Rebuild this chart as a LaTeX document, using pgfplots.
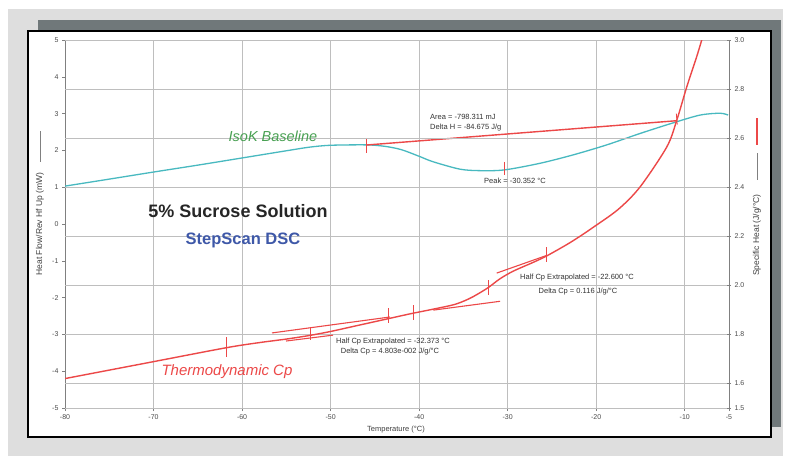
\documentclass[border=0pt]{standalone}
\usepackage{pgfplots}
\pgfplotsset{compat=1.18}
\usepackage{fontspec}
\setmainfont{Liberation Sans}
\definecolor{cyanc}{RGB}{72,185,192}
\definecolor{redc}{RGB}{236,72,72}
\definecolor{gridc}{RGB}{190,190,190}
\definecolor{bgc}{RGB}{222,222,222}
\definecolor{shadowc}{RGB}{112,120,122}
\definecolor{titleblue}{RGB}{62,88,168}
\definecolor{greenc}{RGB}{72,160,82}
\begin{document}
\begin{tikzpicture}
\useasboundingbox (0,0) rectangle (789pt,-456pt);
\fill[white] (0,0) rectangle (789pt,-456pt);
\fill[bgc] (8pt,-9pt) rectangle (783pt,-456pt);
\fill[shadowc] (38pt,-20pt) rectangle (781pt,-427pt);
\fill[white] (28pt,-31pt) rectangle (771pt,-437pt);
\draw[black, line width=2pt] (28pt,-31pt) rectangle (771pt,-437pt);

\begin{axis}[
  at={(65pt,-408pt)}, anchor=south west, scale only axis,
  width=664pt, height=368pt,
  xmin=-80, xmax=-5, ymin=-5, ymax=5,
  axis x line*=bottom, axis y line*=left,
  axis line style={gray, line width=0.9pt, -},
  xtick={-80,-70,-60,-50,-40,-30,-20,-10,-5},
  ytick={-5,-4,-3,-2,-1,0,1,2,3,4,5},
  xmajorgrids, grid style={gridc, line width=0.8pt},
  tick style={gray, line width=0.6pt}, major tick length=3pt, tick align=outside,
  ticklabel style={font=\fontsize{7}{8}\selectfont, text=black!70},
  /pgf/number format/assume math mode=true,
]
\addplot[cyanc, line width=1.3pt, smooth] coordinates {
(-80,1.03) (-75,1.22) (-70.06,1.41) (-65,1.60) (-60.12,1.79) (-55,1.99) (-52.33,2.09) (-49.95,2.14) (-45.92,2.15) (-43.85,2.11) (-42,2.02) (-40,1.84) (-38.40,1.69) (-35.38,1.49) (-33.12,1.45) (-30.38,1.47) (-26.35,1.65) (-22.58,1.88) (-18.81,2.15) (-15.05,2.46) (-11.29,2.75) (-8.27,2.96) (-6.01,3.01) (-5.1,2.96)};
% area baseline
\addplot[redc, line width=1.4pt] coordinates {(-45.92,2.147) (-10.90,2.807)};
\addplot[redc, line width=0.8pt] coordinates {(-45.92,2.34) (-45.92,1.93)};
\addplot[redc, line width=0.8pt] coordinates {(-10.95,3.0) (-10.85,2.70)};
% peak tick
\addplot[redc, line width=0.8pt] coordinates {(-30.38,1.69) (-30.38,1.33)};
\end{axis}

\begin{axis}[
  at={(65pt,-408pt)}, anchor=south west, scale only axis,
  width=664pt, height=368pt,
  xmin=-80, xmax=-5, ymin=1.5, ymax=3.0,
  axis x line=none, axis y line*=right,
  axis line style={gray, line width=0.9pt, -},
  ytick={1.5,1.6,1.8,2.0,2.2,2.4,2.6,2.8,3.0},
  ymajorgrids, grid style={gridc, line width=0.8pt},
  tick style={gray, line width=0.6pt}, major tick length=4pt, tick align=center,
  ticklabel style={font=\fontsize{7}{8}\selectfont, text=black!70},
  yticklabel style={/pgf/number format/.cd, fixed, fixed zerofill, precision=1},
  /pgf/number format/assume math mode=true,
]
\addplot[redc, line width=1.4pt, smooth, tension=0.5] coordinates {
(-80,1.620) (-70,1.689) (-61.74,1.746) (-57.97,1.767) (-55,1.781) (-52.33,1.796) (-50,1.812) (-47,1.836) (-44,1.860) (-41,1.884) (-38.4,1.903) (-36,1.922) (-34.5,1.943) (-33.5,1.962) (-32.19,1.991) (-30.86,2.027) (-29.36,2.058) (-27.1,2.094) (-25.59,2.120) (-23.33,2.166) (-21.83,2.200) (-20.36,2.236) (-17.5,2.31) (-15.05,2.401) (-12.03,2.564) (-10.90,2.673) (-9.77,2.809) (-8.65,2.932) (-8.08,3.0)};
% tangent lines
\addplot[redc, line width=1.1pt] coordinates {(-56.62,1.806) (-43.29,1.871)};
\addplot[redc, line width=1.1pt] coordinates {(-55.04,1.773) (-49.73,1.797)};
\addplot[redc, line width=1.1pt] coordinates {(-38.4,1.899) (-30.86,1.935)};
\addplot[redc, line width=1.1pt] coordinates {(-31.24,2.050) (-25.59,2.122)};
% tick marks
\addplot[redc, line width=0.8pt] coordinates {(-61.74,1.788) (-61.74,1.706)};
\addplot[redc, line width=0.8pt] coordinates {(-52.33,1.830) (-52.33,1.776)};
\addplot[redc, line width=0.8pt] coordinates {(-43.48,1.906) (-43.48,1.845)};
\addplot[redc, line width=0.8pt] coordinates {(-40.66,1.918) (-40.66,1.857)};
\addplot[redc, line width=0.8pt] coordinates {(-32.19,2.020) (-32.19,1.959)};
\addplot[redc, line width=0.8pt] coordinates {(-25.59,2.156) (-25.59,2.095)};
\end{axis}

% axis labels
\node[rotate=90, font=\fontsize{8.5}{9}\selectfont, text=black!75] at (40pt,-224pt) {Heat Flow/Rev Hf Up (mW)};
\draw[gray, line width=0.7pt] (40pt,-131pt) -- (40pt,-162pt);
\node[rotate=90, font=\fontsize{8.5}{9}\selectfont, text=black!75] at (757pt,-235pt) {Specific Heat (J/g/°C)};
\draw[gray, line width=0.7pt] (757pt,-153pt) -- (757pt,-180pt);
\draw[redc, line width=1.6pt] (757pt,-118pt) -- (757pt,-145pt);
\node[font=\fontsize{7.5}{8}\selectfont, text=black!75] at (396pt,-430pt) {Temperature (°C)};

% titles
\node[font=\bfseries\fontsize{18}{20}\selectfont, text=black!85] at (238pt,-211pt) {5\% Sucrose Solution};
\node[font=\bfseries\fontsize{16.5}{18}\selectfont, text=titleblue] at (243pt,-240pt) {StepScan DSC};
\node[font=\itshape\fontsize{14.5}{16}\selectfont, text=greenc] at (273pt,-136pt) {IsoK Baseline};
\node[font=\itshape\fontsize{15}{16}\selectfont, text=redc] at (227pt,-372pt) {Thermodynamic Cp};

% annotations
\node[anchor=west, font=\fontsize{7.5}{8}\selectfont, text=black!80, inner sep=0pt] at (430pt,-117pt) {Area = -798.311 mJ};
\node[anchor=west, font=\fontsize{7.5}{8}\selectfont, text=black!80, inner sep=0pt] at (430pt,-128pt) {Delta H = -84.675 J/g};
\node[font=\fontsize{7.5}{8}\selectfont, text=black!80, inner sep=0pt] at (515pt,-181pt) {Peak = -30.352 °C};
\node[font=\fontsize{7.5}{8}\selectfont, text=black!80, inner sep=0pt] at (393pt,-342pt) {Half Cp Extrapolated = -32.373 °C};
\node[font=\fontsize{7.5}{8}\selectfont, text=black!80, inner sep=0pt] at (390pt,-352pt) {Delta Cp = 4.803e-002 J/g/°C};
\node[font=\fontsize{7.5}{8}\selectfont, text=black!80, inner sep=0pt] at (577pt,-278pt) {Half Cp Extrapolated = -22.600 °C};
\node[font=\fontsize{7.5}{8}\selectfont, text=black!80, inner sep=0pt] at (578pt,-292pt) {Delta Cp = 0.116 J/g/°C};
\end{tikzpicture}
\end{document}
